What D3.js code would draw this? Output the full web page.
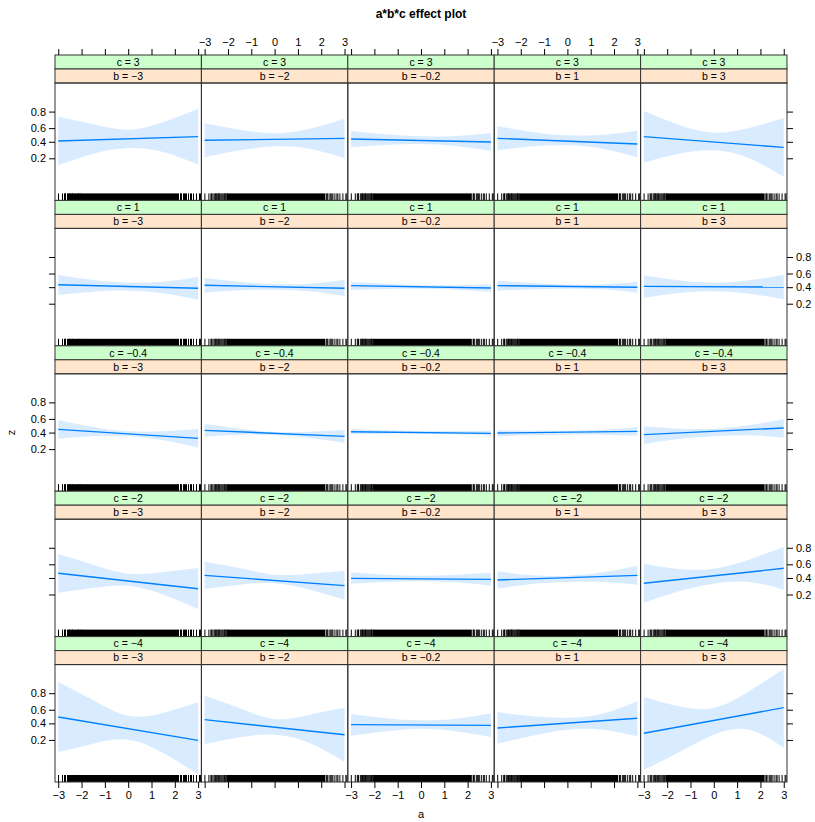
<!DOCTYPE html>
<html>
<head>
<meta charset="utf-8">
<script src="https://cdn.jsdelivr.net/npm/d3@7"></script>
<style>
  body { margin: 0; background: #fff; }
  text { font-family: "Liberation Sans", Arial, sans-serif; }
</style>
</head>
<body>
<svg id="chart" width="815" height="822"></svg>
<script>
// panel levels: rows are c (top to bottom), columns are b
const cLevels = [3, 1, -0.4, -2, -4]
const bLevels = [-3, -2, -0.2, 1, 3]
const aTicks = [-3, -2, -1, 0, 1, 2, 3]
const zTicks = [0.2, 0.4, 0.6, 0.8]

// fitted z at a = -3 and a = 3, [c row][b column]
const fitStart = [
  [0.411, 0.421, 0.440, 0.450, 0.475],
  [0.436, 0.427, 0.422, 0.422, 0.412],
  [0.447, 0.432, 0.413, 0.394, 0.371],
  [0.468, 0.438, 0.395, 0.372, 0.327],
  [0.493, 0.454, 0.382, 0.336, 0.270]
]
const fitEnd = [
  [0.475, 0.450, 0.397, 0.369, 0.324],
  [0.384, 0.384, 0.388, 0.398, 0.402],
  [0.321, 0.348, 0.389, 0.418, 0.467],
  [0.261, 0.297, 0.381, 0.438, 0.542],
  [0.196, 0.254, 0.372, 0.474, 0.629]
]

// confidence band, read at these a values
const bandA = [-3, -1.5, 0, 1.5, 3]
const upper = [
  [[0.747, 0.652, 0.578, 0.683, 0.826], [0.666, 0.578, 0.524, 0.592, 0.724], [0.558, 0.509, 0.480, 0.485, 0.529], [0.630, 0.544, 0.494, 0.504, 0.563], [0.806, 0.648, 0.534, 0.602, 0.731]],
  [[0.584, 0.505, 0.466, 0.480, 0.550], [0.535, 0.480, 0.446, 0.451, 0.505], [0.476, 0.451, 0.431, 0.427, 0.441], [0.495, 0.461, 0.436, 0.441, 0.476], [0.574, 0.500, 0.466, 0.500, 0.584]],
  [[0.585, 0.481, 0.418, 0.418, 0.452], [0.526, 0.457, 0.408, 0.413, 0.437], [0.452, 0.432, 0.423, 0.423, 0.428], [0.432, 0.428, 0.428, 0.442, 0.481], [0.491, 0.457, 0.457, 0.506, 0.599]],
  [[0.735, 0.595, 0.463, 0.487, 0.547], [0.637, 0.547, 0.448, 0.463, 0.507], [0.482, 0.448, 0.433, 0.448, 0.477], [0.497, 0.438, 0.433, 0.482, 0.581], [0.609, 0.532, 0.537, 0.664, 0.807]],
  [[0.886, 0.724, 0.513, 0.553, 0.703], [0.775, 0.624, 0.464, 0.528, 0.629], [0.538, 0.474, 0.444, 0.469, 0.548], [0.567, 0.503, 0.483, 0.543, 0.716], [0.761, 0.647, 0.624, 0.817, 0.944]]
]
const lower = [
  [[0.142, 0.247, 0.316, 0.267, 0.147], [0.210, 0.286, 0.337, 0.307, 0.200], [0.324, 0.355, 0.369, 0.342, 0.278], [0.286, 0.337, 0.351, 0.307, 0.210], [0.162, 0.247, 0.286, 0.203, 0.076]],
  [[0.295, 0.338, 0.352, 0.317, 0.241], [0.325, 0.356, 0.365, 0.343, 0.279], [0.361, 0.374, 0.379, 0.365, 0.338], [0.352, 0.370, 0.379, 0.370, 0.325], [0.263, 0.321, 0.343, 0.312, 0.245]],
  [[0.317, 0.353, 0.348, 0.296, 0.214], [0.343, 0.371, 0.366, 0.326, 0.268], [0.375, 0.385, 0.385, 0.375, 0.357], [0.348, 0.361, 0.371, 0.371, 0.357], [0.253, 0.313, 0.348, 0.361, 0.330]],
  [[0.218, 0.269, 0.297, 0.199, 0.094], [0.261, 0.310, 0.327, 0.250, 0.155], [0.322, 0.344, 0.353, 0.340, 0.297], [0.261, 0.318, 0.344, 0.344, 0.310], [0.131, 0.232, 0.322, 0.344, 0.250]],
  [[0.109, 0.167, 0.202, 0.103, 0.031], [0.164, 0.226, 0.254, 0.172, 0.063], [0.243, 0.294, 0.327, 0.294, 0.229], [0.167, 0.243, 0.315, 0.315, 0.236], [0.040, 0.107, 0.254, 0.315, 0.134]]
]

// rug of observed a: sparse tails plus a dense middle stretch
const rugLeft = [-3.0, -2.83, -2.77, -2.71, -2.69, -2.63, -2.57, -2.55, -2.53, -2.49, -2.44, -2.42, -2.4, -2.36, -2.31, -2.28, -2.25, -2.21, -2.17, -2.14, -2.11, -2.08]
const rugDense = [-2.05, 2.18]
const rugRight = [2.21, 2.24, 2.27, 2.33, 2.38, 2.44, 2.5, 2.57, 2.64, 2.71, 2.8, 2.9, 3.02, 3.08]

const gridLeft = 55, gridRight = 787, gridTop = 55, gridBottom = 782
const colW = (gridRight - gridLeft) / bLevels.length
const rowH = (gridBottom - gridTop) / cLevels.length
const stripH = 14
const plotH = rowH - 2 * stripH

const logit = p => Math.log(p / (1 - p))
const fmt = v => String(v).replace("-", "\u2212")

const x = d3.scaleLinear().domain([-3.14, 3.14]).range([0, colW])
const y = d3.scaleLinear().domain([-3.884, 3.083]).range([plotH, 0])

const svg = d3.select("#chart")

svg.append("text")
  .attr("x", (gridLeft + gridRight) / 2).attr("y", 18)
  .attr("text-anchor", "middle")
  .attr("font-size", 12).attr("font-weight", "bold")
  .text("a*b*c effect plot")

const area = d3.area()
  .x(d => x(d.a)).y0(d => y(logit(d.lo))).y1(d => y(logit(d.hi)))
  .curve(d3.curveNatural)
const line = d3.line().x(d => x(d.a)).y(d => y(logit(d.z)))

cLevels.forEach((c, i) => {
  bLevels.forEach((b, j) => {
    const g = svg.append("g")
      .attr("transform", `translate(${gridLeft + j * colW},${gridTop + i * rowH})`)

    // strips
    g.append("rect").attr("width", colW).attr("height", stripH)
      .attr("fill", "#CCFFCC").attr("stroke", "#333").attr("stroke-width", 1)
    g.append("text").attr("x", colW / 2).attr("y", 10.8)
      .attr("text-anchor", "middle").attr("font-size", 10.5)
      .text(`c = ${fmt(c)}`)
    g.append("rect").attr("y", stripH).attr("width", colW).attr("height", stripH)
      .attr("fill", "#FFE5CC").attr("stroke", "#333").attr("stroke-width", 1)
    g.append("text").attr("x", colW / 2).attr("y", stripH + 10.8)
      .attr("text-anchor", "middle").attr("font-size", 10.5)
      .text(`b = ${fmt(b)}`)

    const p = g.append("g").attr("transform", `translate(0,${2 * stripH})`)

    const band = bandA.map((a, k) => ({ a, lo: lower[i][j][k], hi: upper[i][j][k] }))
    p.append("path").datum(band)
      .attr("d", area)
      .attr("fill", "#0080FF").attr("fill-opacity", 0.15)

    p.append("path")
      .datum([{ a: -3, z: fitStart[i][j] }, { a: 3, z: fitEnd[i][j] }])
      .attr("d", line)
      .attr("fill", "none").attr("stroke", "#0080FF").attr("stroke-width", 1.4)

    // rug
    p.selectAll("line.rug")
      .data(rugLeft.concat(rugRight))
      .join("line")
      .attr("class", "rug")
      .attr("x1", d => Math.round(x(d)) + 0.5).attr("x2", d => Math.round(x(d)) + 0.5)
      .attr("y1", plotH).attr("y2", plotH - 7)
      .attr("stroke", "#000").attr("stroke-width", 1)
    p.append("rect")
      .attr("x", x(rugDense[0])).attr("width", x(rugDense[1]) - x(rugDense[0]))
      .attr("y", plotH - 7).attr("height", 7)
      .attr("fill", "#000")

    p.append("rect").attr("width", colW).attr("height", plotH)
      .attr("fill", "none").attr("stroke", "#333").attr("stroke-width", 1)
  })
})

function styleAxis(sel) {
  sel.select(".domain").remove()
  sel.selectAll("text").attr("font-size", 11).attr("fill", "#000")
    .attr("font-family", "Liberation Sans, Arial, sans-serif")
  sel.selectAll("line").attr("stroke", "#000")
}

const aLabel = d3.format("d")

bLevels.forEach((b, j) => {
  const topAxis = d3.axisTop(x).tickValues(aTicks).tickSize(6).tickPadding(3)
    .tickFormat(j % 2 === 1 ? aLabel : "")
  svg.append("g").attr("transform", `translate(${gridLeft + j * colW},${gridTop})`)
    .call(topAxis).call(styleAxis)

  const botAxis = d3.axisBottom(x).tickValues(aTicks).tickSize(6).tickPadding(3)
    .tickFormat(j % 2 === 0 ? aLabel : "")
  svg.append("g").attr("transform", `translate(${gridLeft + j * colW},${gridBottom})`)
    .call(botAxis).call(styleAxis)
})

cLevels.forEach((c, i) => {
  const zLabel = (d, k) => zTicks[k].toFixed(1)
  const leftAxis = d3.axisLeft(y).tickValues(zTicks.map(logit)).tickSize(6).tickPadding(3)
    .tickFormat(i % 2 === 0 ? zLabel : "")
  svg.append("g").attr("transform", `translate(${gridLeft},${gridTop + i * rowH + 2 * stripH})`)
    .call(leftAxis).call(styleAxis)

  const rightAxis = d3.axisRight(y).tickValues(zTicks.map(logit)).tickSize(6).tickPadding(3)
    .tickFormat(i % 2 === 1 ? zLabel : "")
  svg.append("g").attr("transform", `translate(${gridRight},${gridTop + i * rowH + 2 * stripH})`)
    .call(rightAxis).call(styleAxis)
})

svg.append("text")
  .attr("x", (gridLeft + gridRight) / 2).attr("y", 818)
  .attr("text-anchor", "middle").attr("font-size", 11)
  .text("a")

svg.append("text")
  .attr("transform", `translate(15,${(gridTop + gridBottom) / 2 + 14}) rotate(-90)`)
  .attr("text-anchor", "middle").attr("font-size", 11)
  .text("z")
</script>
</body>
</html>
